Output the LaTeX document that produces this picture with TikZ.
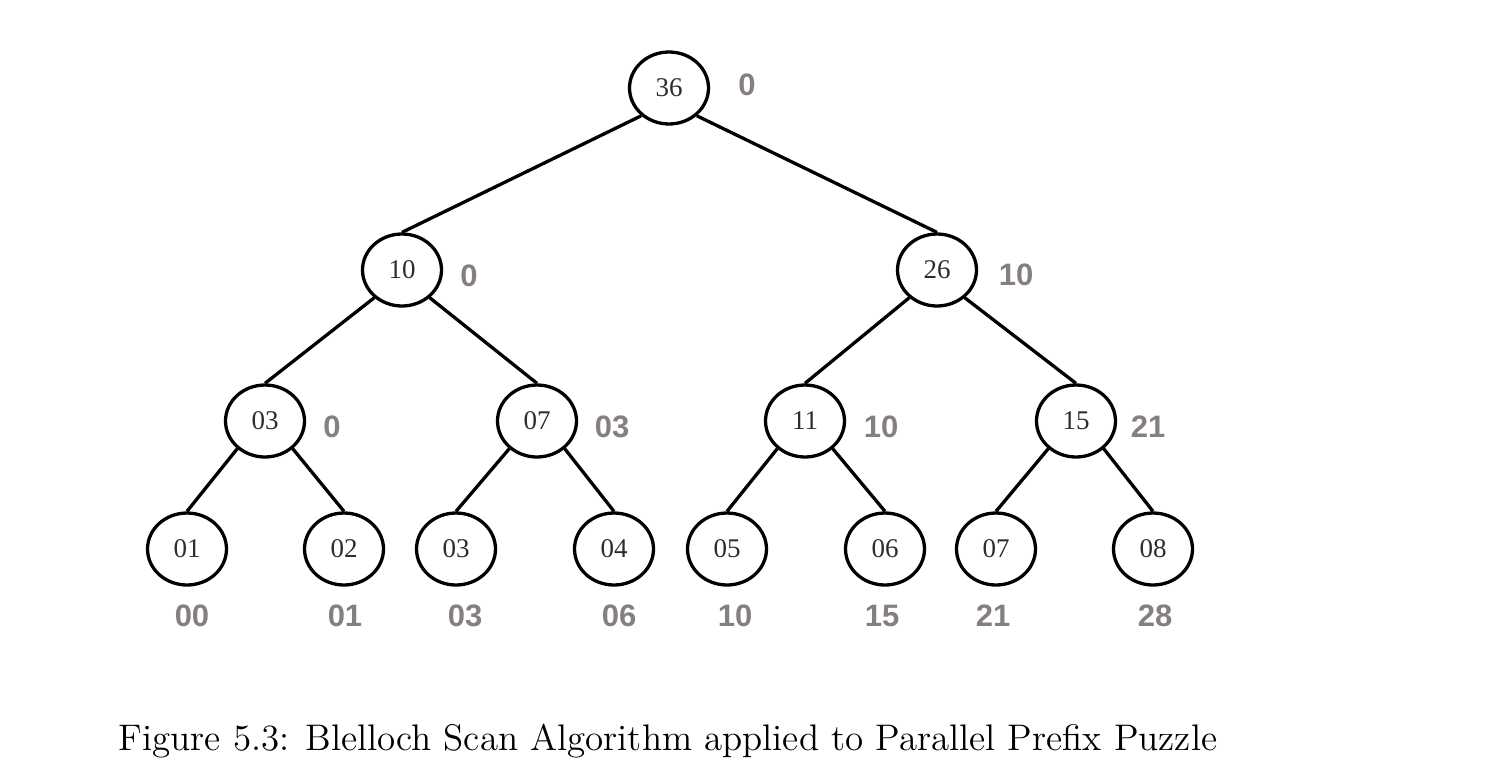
\documentclass[tikz,border=0pt]{standalone}
\usepackage{fontspec}
\usetikzlibrary{shapes.geometric}
\newfontfamily\nodefont{Liberation Serif}
\newfontfamily\labfont{Liberation Sans}
\newfontfamily\capfont{lmroman12-regular.otf}
\definecolor{valgray}{RGB}{133,127,127}
\definecolor{nodetext}{RGB}{45,45,45}
\begin{document}
\begin{tikzpicture}[x=1pt,y=-1pt,
  tnode/.style={ellipse,draw=black,line width=3.3pt,inner sep=0pt,
    minimum width=79pt,minimum height=72pt,text=nodetext,
    font=\nodefont\fontsize{27}{27}\selectfont},
  val/.style={inner sep=0pt,text=valgray,anchor=center,
    font=\labfont\bfseries\fontsize{31}{31}\selectfont},
  edge/.style={line width=3.3pt,black}]
\useasboundingbox (0,0) rectangle (1491,777);
% tree nodes
\node[tnode] (r) at (669,88) {36};
\node[tnode] (a) at (402,270) {10};
\node[tnode] (b) at (937,270) {26};
\node[tnode] (c) at (265,421) {03};
\node[tnode] (d) at (537,421) {07};
\node[tnode] (e) at (805,421) {11};
\node[tnode] (f) at (1076,421) {15};
\node[tnode] (l1) at (187,549) {01};
\node[tnode] (l2) at (344,549) {02};
\node[tnode] (l3) at (456,549) {03};
\node[tnode] (l4) at (614,549) {04};
\node[tnode] (l5) at (727,549) {05};
\node[tnode] (l6) at (885,549) {06};
\node[tnode] (l7) at (996,549) {07};
\node[tnode] (l8) at (1153,549) {08};
% edges
\draw[edge] (r.225) -- (a.north);
\draw[edge] (r.315) -- (b.north);
\draw[edge] (a.225) -- (c.north);
\draw[edge] (a.315) -- (d.north);
\draw[edge] (b.225) -- (e.north);
\draw[edge] (b.315) -- (f.north);
\draw[edge] (c.225) -- (l1.north);
\draw[edge] (c.315) -- (l2.north);
\draw[edge] (d.225) -- (l3.north);
\draw[edge] (d.315) -- (l4.north);
\draw[edge] (e.225) -- (l5.north);
\draw[edge] (e.315) -- (l6.north);
\draw[edge] (f.225) -- (l7.north);
\draw[edge] (f.315) -- (l8.north);
% values
\node[val] (vr) at (747,85) {0};
\node[val] (va) at (469,276) {0};
\node[val] (vb) at (1016,275) {10};
\node[val] (vc) at (332,427) {0};
\node[val] (vd) at (612,427) {03};
\node[val] (ve) at (881,427) {10};
\node[val] (vf) at (1148,427) {21};
\node[val] (v1) at (192,616) {00};
\node[val] (v2) at (345,616) {01};
\node[val] (v3) at (465,616) {03};
\node[val] (v4) at (619,616) {06};
\node[val] (v5) at (735,616) {10};
\node[val] (v6) at (882,616) {15};
\node[val] (v7) at (993,616) {21};
\node[val] (v8) at (1155,616) {28};
% caption
\node[inner sep=0pt,anchor=base,font=\capfont\fontsize{37}{42}\selectfont] (cap) at (668,750)
  {Figure 5.3: Blelloch Scan Algorithm applied to Parallel Prefix Puzzle};
\end{tikzpicture}
\end{document}
